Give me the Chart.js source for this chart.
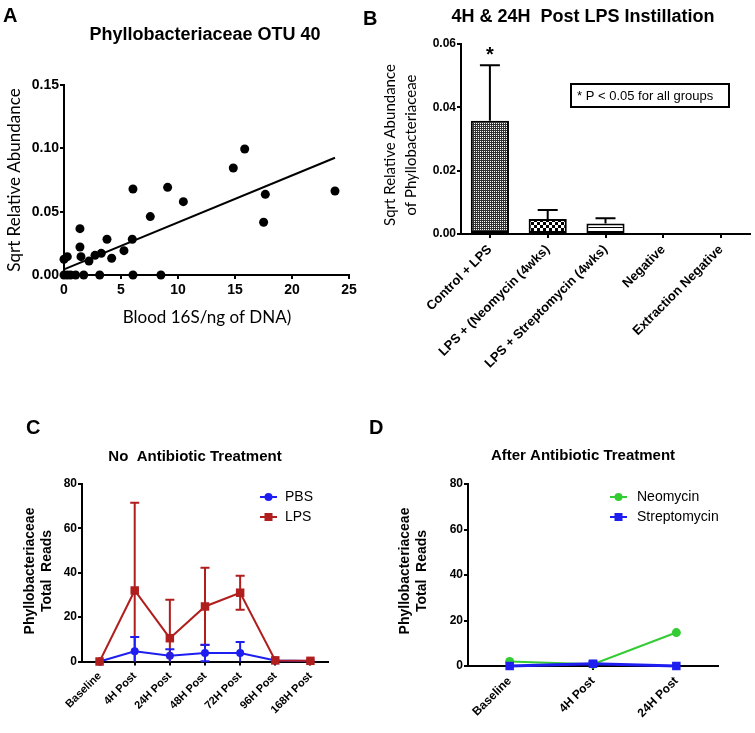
<!DOCTYPE html>
<html>
<head>
<meta charset="utf-8">
<script src="https://cdn.jsdelivr.net/npm/chart.js@4.4.1/dist/chart.umd.min.js"></script>
<style>
  body { margin: 0; background: #fff; }
  #fig { position: relative; width: 755px; height: 733px; overflow: hidden; font-family: "Liberation Sans", Arial, sans-serif; }
  #fig canvas { position: absolute; }
  .letter { position: absolute; font-weight: bold; font-size: 20px; line-height: 1; color: #000; }
</style>
</head>
<body>
<div id="fig">
  <canvas id="cA" width="375" height="345" style="left:0;top:0"></canvas>
  <canvas id="cB" width="380" height="380" style="left:375px;top:0"></canvas>
  <canvas id="cC" width="375" height="353" style="left:0;top:380px"></canvas>
  <canvas id="cD" width="380" height="353" style="left:375px;top:380px"></canvas>
  <div class="letter" style="left:3px;top:5px">A</div>
  <div class="letter" style="left:363px;top:8px">B</div>
  <div class="letter" style="left:26px;top:417px">C</div>
  <div class="letter" style="left:369px;top:417px">D</div>
</div>
<script>
// A: OTU 40 abundance vs blood 16S
const bloodX = [0, 0.29, 0, 0.29, 0.58, 1.02, 1.73, 1.4, 1.4, 1.49, 2.19, 2.72, 3.27, 3.13, 3.77,
                4.18, 5.26, 6.05, 5.99, 6.05, 8.5, 7.57, 9.09, 10.47, 14.85, 15.85, 17.66, 17.51, 23.77];
const abundY = [0.0124, 0.0145, 0, 0, 0, 0, 0, 0.0366, 0.0221, 0.0145, 0.011, 0.0155, 0.0171, 0, 0.0282,
                0.0132, 0.0192, 0.0679, 0.0282, 0, 0, 0.0461, 0.0692, 0.0579, 0.0845, 0.0995, 0.0637, 0.0416, 0.0663];
const fitX = [0, 23.77];
const fitY = [0.0045, 0.0926];

// B: bars with SEM (upper only)
const groupsB = ['Control + LPS', 'LPS + (Neomycin (4wks)', 'LPS + Streptomycin (4wks)', 'Negative', 'Extraction Negative'];
const meanB = [0.0358, 0.0047, 0.0033, 0, 0];
const semB = [0.0175, 0.0029, 0.0017, 0, 0];
const starsB = ['*', '', '', '', ''];

// C: no antibiotic treatment
const timesC = ['Baseline', '4H Post', '24H Post', '48H Post', '72H Post', '96H Post', '168H Post'];
const pbsMean = [0, 4.6, 2.6, 3.8, 3.8, 0.5, 0.2];
const pbsErr = [0, 6.4, 2.9, 3.7, 5.0, 0, 0];
const lpsMean = [0, 32, 10.5, 24.8, 31, 0.5, 0.3];
const lpsErr = [0, 39.5, 17.3, 17.4, 7.7, 0, 0];

// D: after antibiotic treatment
const timesD = ['Baseline', '4H Post', '24H Post'];
const neoMean = [2, 0.8, 14.7];
const strepMean = [0, 1, 0];
const strepErr = [0, 1, 0];

const FONT = '"Liberation Sans", Arial, sans-serif';
const SOFT = 'Lato, "Open Sans", sans-serif';
const RED = '#b01e1e', BLUE = '#1e1ef0', GREEN = '#33cc33';

// free text, boxes and legend rows, in canvas pixels
const textsPlugin = {
  id: 'texts',
  afterDraw(chart, args, opts) {
    const ctx = chart.ctx;
    (opts.items || []).forEach(it => {
      ctx.save();
      if (it.box) {
        ctx.strokeStyle = '#000';
        ctx.lineWidth = 2;
        ctx.strokeRect(it.box[0], it.box[1], it.box[2], it.box[3]);
      }
      if (it.line) {
        ctx.strokeStyle = it.color;
        ctx.fillStyle = it.color;
        ctx.lineWidth = 2;
        ctx.beginPath();
        ctx.moveTo(it.line[0], it.y);
        ctx.lineTo(it.line[1], it.y);
        ctx.stroke();
        const cx = (it.line[0] + it.line[1]) / 2;
        if (it.marker === 'rect') ctx.fillRect(cx - 4, it.y - 4, 8, 8);
        else { ctx.beginPath(); ctx.arc(cx, it.y, 4, 0, Math.PI * 2); ctx.fill(); }
      }
      if (it.text) {
        ctx.font = it.font;
        ctx.fillStyle = '#000';
        ctx.textAlign = it.align || 'center';
        ctx.textBaseline = 'middle';
        ctx.translate(it.x, it.y);
        if (it.rot) ctx.rotate(it.rot);
        ctx.fillText(it.text, 0, 0);
      }
      ctx.restore();
    });
  }
};

// error bars from dataset.errors, drawn with the y scale
const errorPlugin = {
  id: 'errorBars',
  afterDatasetsDraw(chart) {
    const ctx = chart.ctx, ys = chart.scales.y;
    chart.data.datasets.forEach((ds, di) => {
      if (!ds.errors) return;
      const meta = chart.getDatasetMeta(di);
      ctx.save();
      ctx.strokeStyle = ds.errorColor || ds.borderColor;
      ctx.lineWidth = 2;
      ds.errors.forEach((e, i) => {
        const m = ds.data[i], x = meta.data[i].x, w = ds.capWidth / 2;
        const top = ys.getPixelForValue(m + e);
        if (e) {
          const lo = ds.upperOnly ? m : Math.max(0, m - e);
          const bot = ys.getPixelForValue(lo);
          ctx.beginPath();
          ctx.moveTo(x, bot); ctx.lineTo(x, top);
          ctx.moveTo(x - w, top); ctx.lineTo(x + w, top);
          if (!ds.upperOnly && lo > 0) { ctx.moveTo(x - w, bot); ctx.lineTo(x + w, bot); }
          ctx.stroke();
        }
        if (ds.stars && ds.stars[i]) {
          ctx.fillStyle = '#000';
          ctx.font = 'bold 20px ' + FONT;
          ctx.textAlign = 'center';
          ctx.textBaseline = 'middle';
          ctx.fillText(ds.stars[i], x, top - 10);
        }
      });
      ctx.restore();
    });
  }
};

function axisBase(size, pad) {
  return {
    border: { display: true, color: '#000', width: 2 },
    grid: { display: true, drawOnChartArea: false, drawTicks: true, tickLength: 4, color: '#000', lineWidth: 2, offset: false },
    ticks: { color: '#000', font: { family: FONT, weight: 'bold', size: size }, padding: pad }
  };
}

function makePattern(kind) {
  const c = document.createElement('canvas');
  const g = c.getContext('2d');
  if (kind === 'dots') {
    c.width = 2; c.height = 2;
    g.fillStyle = '#333'; g.fillRect(0, 0, 2, 2);
    g.fillStyle = '#fff'; g.fillRect(1, 1, 1, 1);
  } else if (kind === 'checks') {
    c.width = 6; c.height = 6;
    g.fillStyle = '#fff'; g.fillRect(0, 0, 6, 6);
    g.fillStyle = '#000'; g.fillRect(0, 0, 3, 3); g.fillRect(3, 3, 3, 3);
  } else {
    c.width = 4; c.height = 5;
    g.fillStyle = '#fff'; g.fillRect(0, 0, 4, 5);
    g.fillStyle = '#000'; g.fillRect(0, 2, 4, 1);
  }
  return g.createPattern(c, 'repeat');
}

const common = {
  responsive: false,
  animation: false,
  events: []
};

// ---- A ----
const xA = axisBase(14, 3);
const yA = axisBase(14, 1);
new Chart(document.getElementById('cA'), {
  type: 'scatter',
  data: {
    datasets: [
      { data: bloodX.map((x, i) => ({ x: x, y: abundY[i] })), backgroundColor: '#000', borderColor: '#000',
        pointRadius: 4.5, pointBorderWidth: 0, clip: false },
      { type: 'line', data: fitX.map((x, i) => ({ x: x, y: fitY[i] })), borderColor: '#000', borderWidth: 2,
        pointRadius: 0, clip: false }
    ]
  },
  options: Object.assign({}, common, {
    layout: { padding: { top: 85, right: 26, left: 0, bottom: 0 } },
    plugins: {
      legend: { display: false }, tooltip: { enabled: false },
      texts: { items: [
        { text: 'Phyllobacteriaceae OTU 40', x: 205, y: 35, font: 'bold 18px ' + FONT },
        { text: 'Sqrt Relative Abundance', x: 15, y: 180, rot: -Math.PI / 2, font: '17px ' + SOFT },
        { text: 'Blood 16S/ng of DNA)', x: 207, y: 318, font: '17px ' + SOFT }
      ] }
    },
    scales: {
      x: Object.assign(xA, { type: 'linear', min: 0, max: 25,
        ticks: Object.assign(xA.ticks, { stepSize: 5 }),
        afterFit: s => { s.height = 70; } }),
      y: Object.assign(yA, { type: 'linear', min: 0, max: 0.15,
        ticks: Object.assign(yA.ticks, { stepSize: 0.05, callback: v => v.toFixed(2) }),
        afterFit: s => { s.width = 64; } })
    }
  }),
  plugins: [textsPlugin]
});

// ---- B ----
const xB = axisBase(13, 4);
const yB = axisBase(12, 1);
new Chart(document.getElementById('cB'), {
  type: 'bar',
  data: {
    labels: groupsB,
    datasets: [{
      data: meanB, errors: semB, upperOnly: true, capWidth: 20, stars: starsB,
      backgroundColor: [makePattern('dots'), makePattern('checks'), makePattern('lines'), '#fff', '#fff'],
      borderColor: '#000', borderWidth: 2, borderSkipped: false,
      barPercentage: 0.66, categoryPercentage: 1
    }]
  },
  options: Object.assign({}, common, {
    layout: { padding: { top: 44, right: 5, left: 0, bottom: 0 } },
    plugins: {
      legend: { display: false }, tooltip: { enabled: false },
      texts: { items: [
        { text: '4H & 24H  Post LPS Instillation', x: 208, y: 17, font: 'bold 18px ' + FONT },
        { text: 'Sqrt Relative Abundance', x: 15, y: 145, rot: -Math.PI / 2, font: '15px ' + SOFT },
        { text: 'of Phyllobacteriaceae', x: 36, y: 145, rot: -Math.PI / 2, font: '15px ' + SOFT },
        { box: [196, 84, 158, 23] },
        { text: '* P < 0.05 for all groups', x: 202, y: 96, align: 'left', font: '13px ' + FONT }
      ] }
    },
    scales: {
      x: Object.assign(xB, { type: 'category', offset: true,
        ticks: Object.assign(xB.ticks, { minRotation: 45, maxRotation: 45, autoSkip: false }),
        afterFit: s => { s.height = 146; } }),
      y: Object.assign(yB, { min: 0, max: 0.06,
        ticks: Object.assign(yB.ticks, { stepSize: 0.02, callback: v => v.toFixed(2) }),
        afterFit: s => { s.width = 86; } })
    }
  }),
  plugins: [textsPlugin, errorPlugin]
});

// ---- C ----
const xC = axisBase(11, 4);
const yC = axisBase(12, 1);
new Chart(document.getElementById('cC'), {
  type: 'line',
  data: {
    labels: timesC,
    datasets: [
      { label: 'LPS', data: lpsMean, errors: lpsErr, capWidth: 9, order: 0,
        borderColor: RED, backgroundColor: RED, borderWidth: 2, pointStyle: 'rect', pointRadius: 6, pointBorderWidth: 0, clip: false },
      { label: 'PBS', data: pbsMean, errors: pbsErr, capWidth: 9, order: 1,
        borderColor: BLUE, backgroundColor: BLUE, borderWidth: 2, pointStyle: 'circle', pointRadius: 4, pointBorderWidth: 0, clip: false }
    ]
  },
  options: Object.assign({}, common, {
    layout: { padding: { top: 104, right: 47, left: 0, bottom: 0 } },
    plugins: {
      legend: { display: false }, tooltip: { enabled: false },
      texts: { items: [
        { text: 'No  Antibiotic Treatment', x: 195, y: 77, font: 'bold 15px ' + FONT },
        { text: 'Phyllobacteriaceae', x: 30, y: 191, rot: -Math.PI / 2, font: 'bold 14px ' + FONT },
        { text: 'Total  Reads', x: 47, y: 191, rot: -Math.PI / 2, font: 'bold 14px ' + FONT },
        { line: [260, 277], y: 117, color: BLUE, marker: 'circle', text: 'PBS', x: 285, align: 'left', font: '14px ' + FONT },
        { line: [260, 277], y: 137, color: RED, marker: 'rect', text: 'LPS', x: 285, align: 'left', font: '14px ' + FONT }
      ] }
    },
    scales: {
      x: Object.assign(xC, { type: 'category', offset: true,
        ticks: Object.assign(xC.ticks, { minRotation: 45, maxRotation: 45, autoSkip: false }),
        afterFit: s => { s.height = 71.5; } }),
      y: Object.assign(yC, { min: 0, max: 80,
        ticks: Object.assign(yC.ticks, { stepSize: 20 }),
        afterFit: s => { s.width = 82; } })
    }
  }),
  plugins: [textsPlugin, errorPlugin]
});

// ---- D ----
const xD = axisBase(12, 4);
const yD = axisBase(12, 1);
new Chart(document.getElementById('cD'), {
  type: 'line',
  data: {
    labels: timesD,
    datasets: [
      { label: 'Streptomycin', data: strepMean, errors: strepErr, capWidth: 9, order: 0,
        borderColor: BLUE, backgroundColor: BLUE, borderWidth: 3, pointStyle: 'rect', pointRadius: 6, pointBorderWidth: 0, clip: false },
      { label: 'Neomycin', data: neoMean, order: 1,
        borderColor: GREEN, backgroundColor: GREEN, borderWidth: 2, pointStyle: 'circle', pointRadius: 4.5, pointBorderWidth: 0, clip: false }
    ]
  },
  options: Object.assign({}, common, {
    layout: { padding: { top: 104, right: 37, left: 0, bottom: 0 } },
    plugins: {
      legend: { display: false }, tooltip: { enabled: false },
      texts: { items: [
        { text: 'After Antibiotic Treatment', x: 208, y: 76, font: 'bold 15px ' + FONT },
        { text: 'Phyllobacteriaceae', x: 30, y: 191, rot: -Math.PI / 2, font: 'bold 14px ' + FONT },
        { text: 'Total  Reads', x: 47, y: 191, rot: -Math.PI / 2, font: 'bold 14px ' + FONT },
        { line: [235, 252], y: 117, color: GREEN, marker: 'circle', text: 'Neomycin', x: 262, align: 'left', font: '14px ' + FONT },
        { line: [235, 252], y: 137, color: BLUE, marker: 'rect', text: 'Streptomycin', x: 262, align: 'left', font: '14px ' + FONT }
      ] }
    },
    scales: {
      x: Object.assign(xD, { type: 'category', offset: true,
        ticks: Object.assign(xD.ticks, { minRotation: 45, maxRotation: 45, autoSkip: false }),
        afterFit: s => { s.height = 67; } }),
      y: Object.assign(yD, { min: 0, max: 80,
        ticks: Object.assign(yD.ticks, { stepSize: 20 }),
        afterFit: s => { s.width = 93; } })
    }
  }),
  plugins: [textsPlugin, errorPlugin]
});
</script>
</body>
</html>
